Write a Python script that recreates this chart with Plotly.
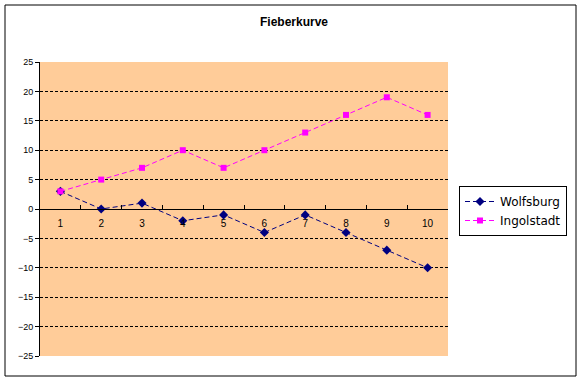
import plotly.graph_objects as go

categories = ["1", "2", "3", "4", "5", "6", "7", "8", "9", "10"]
wolfsburg = [3, 0, 1, -2, -1, -4, -1, -4, -7, -10]
ingolstadt = [3, 5, 7, 10, 7, 10, 13, 16, 19, 16]
y_ticks = [-25, -20, -15, -10, -5, 0, 5, 10, 15, 20, 25]
grid_vals = [-20, -15, -10, -5, 5, 10, 15, 20]

W, H = 582, 381
L, R, T, B = 40, 134, 62, 25
pw, ph = W - L - R, H - T - B

fig = go.Figure()
fig.add_trace(go.Scatter(
    x=categories, y=wolfsburg, name="Wolfsburg", mode="lines+markers",
    line=dict(color="#000080", width=1, dash="5px,3px"),
    marker=dict(symbol="diamond", size=7, color="#000080"),
))
fig.add_trace(go.Scatter(
    x=categories, y=ingolstadt, name="Ingolstadt", mode="lines+markers",
    line=dict(color="#FF00FF", width=1, dash="5px,3px"),
    marker=dict(symbol="square", size=6, color="#FF00FF"),
))

fig.update_layout(
    width=W, height=H,
    margin=dict(l=L, r=R, t=T, b=B),
    paper_bgcolor="white",
    plot_bgcolor="#FFCC99",
    font=dict(family="Liberation Sans, Arial, sans-serif", color="black"),
    title=dict(text="<b>Fieberkurve</b>", x=294 / W, xref="container", xanchor="center",
               y=1 - 22 / H, yref="container", yanchor="middle",
               font=dict(size=12, family="Liberation Sans, Arial, sans-serif")),
    xaxis=dict(
        type="category", range=[-0.5, 9.5], anchor="free", position=0.5,
        showgrid=False, showline=True, linecolor="black", linewidth=1,
        ticks="inside", ticklen=4, tickcolor="black", tickson="boundaries",
        tickfont=dict(size=10), zeroline=False, fixedrange=True,
        ticklabelstandoff=5,
    ),
    yaxis=dict(
        range=[-25, 25], tickvals=y_ticks, showgrid=False, zeroline=False,
        showline=True, linecolor="black", linewidth=1,
        ticks="outside", ticklen=4, tickcolor="black",
        tickfont=dict(size=9), fixedrange=True,
        minor=dict(tickmode="array", tickvals=grid_vals, showgrid=True,
                   gridcolor="black", griddash="3px,2px", gridwidth=1, ticks=""),
    ),
    legend=dict(
        x=(459 - L) / pw, y=(H - B - 186) / ph, xanchor="left", yanchor="top",
        bordercolor="black", borderwidth=1, bgcolor="white",
        font=dict(size=12, family="DejaVu Sans, sans-serif"),
        tracegroupgap=0, itemwidth=30,
    ),
    showlegend=True,
)

# outer chart border
fig.add_shape(type="rect", xref="paper", yref="paper",
              x0=(5 - L) / pw, x1=(576 - L) / pw,
              y0=(H - B - 376) / ph, y1=(H - B - 5) / ph,
              line=dict(color="black", width=1), fillcolor="rgba(0,0,0,0)", layer="below")

fig.write_html("out.html", config={"displayModeBar": False},
               post_script="document.body.style.margin='0';")
